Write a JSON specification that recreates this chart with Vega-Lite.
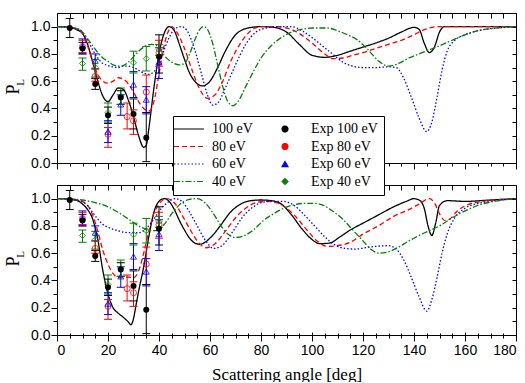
{
 "$schema": "https://vega.github.io/schema/vega-lite/v6.json",
 "padding": {"left": 4, "top": 12, "right": 9, "bottom": 0},
 "bounds": "flush",
 "spacing": 22,
 "config": {
  "font": "Liberation Sans",
  "view": {"stroke": null},
  "axis": {"grid": false, "domainColor": "black", "tickColor": "black", "labelColor": "black", "labelFont": "Liberation Sans", "labelFontSize": 14, "titleFont": "Liberation Serif", "titleFontWeight": "normal", "titleColor": "black", "domainWidth": 1, "tickWidth": 1},
  "legend": {"padding": 6, "rowPadding": 3.5, "columnPadding": 25, "labelFont": "Liberation Serif", "labelFontSize": 14, "labelColor": "black", "fillColor": "white", "strokeColor": "black", "symbolStrokeWidth": 1.1, "symbolFillColor": "transparent", "labelOffset": 19, "symbolSize": 36}
 },
 "datasets": {
  "ccc": [
   {"a":0,"p":1,"k":"100 eV"},{"a":5,"p":0.995,"k":"100 eV"},{"a":8,"p":0.975,"k":"100 eV"},{"a":10,"p":0.95,"k":"100 eV"},{"a":12,"p":0.87,"k":"100 eV"},{"a":14,"p":0.74,"k":"100 eV"},{"a":16,"p":0.6,"k":"100 eV"},{"a":18,"p":0.49,"k":"100 eV"},{"a":20,"p":0.45,"k":"100 eV"},{"a":22,"p":0.5,"k":"100 eV"},{"a":24,"p":0.55,"k":"100 eV"},{"a":26,"p":0.54,"k":"100 eV"},{"a":28,"p":0.46,"k":"100 eV"},{"a":30,"p":0.34,"k":"100 eV"},{"a":32,"p":0.2,"k":"100 eV"},{"a":34,"p":0.115,"k":"100 eV"},{"a":35,"p":0.13,"k":"100 eV"},{"a":36,"p":0.25,"k":"100 eV"},{"a":38,"p":0.55,"k":"100 eV"},{"a":40,"p":0.8,"k":"100 eV"},{"a":42,"p":0.95,"k":"100 eV"},{"a":44,"p":1.0,"k":"100 eV"},{"a":46,"p":0.97,"k":"100 eV"},{"a":48,"p":0.87,"k":"100 eV"},{"a":50,"p":0.76,"k":"100 eV"},{"a":52,"p":0.66,"k":"100 eV"},{"a":54,"p":0.6,"k":"100 eV"},{"a":57,"p":0.565,"k":"100 eV"},{"a":60,"p":0.6,"k":"100 eV"},{"a":63,"p":0.7,"k":"100 eV"},{"a":66,"p":0.82,"k":"100 eV"},{"a":70,"p":0.94,"k":"100 eV"},{"a":75,"p":0.99,"k":"100 eV"},{"a":80,"p":1.0,"k":"100 eV"},{"a":85,"p":0.995,"k":"100 eV"},{"a":90,"p":0.96,"k":"100 eV"},{"a":95,"p":0.87,"k":"100 eV"},{"a":100,"p":0.79,"k":"100 eV"},{"a":105,"p":0.775,"k":"100 eV"},{"a":110,"p":0.79,"k":"100 eV"},{"a":115,"p":0.82,"k":"100 eV"},{"a":120,"p":0.85,"k":"100 eV"},{"a":125,"p":0.88,"k":"100 eV"},{"a":130,"p":0.915,"k":"100 eV"},{"a":135,"p":0.96,"k":"100 eV"},{"a":140,"p":0.995,"k":"100 eV"},{"a":142,"p":0.98,"k":"100 eV"},{"a":144,"p":0.88,"k":"100 eV"},{"a":146,"p":0.81,"k":"100 eV"},{"a":148,"p":0.85,"k":"100 eV"},{"a":150,"p":0.96,"k":"100 eV"},{"a":152,"p":1.0,"k":"100 eV"},{"a":160,"p":1.0,"k":"100 eV"},{"a":180,"p":1.0,"k":"100 eV"},
   {"a":0,"p":1,"k":"80 eV"},{"a":5,"p":0.995,"k":"80 eV"},{"a":8,"p":0.98,"k":"80 eV"},{"a":10,"p":0.95,"k":"80 eV"},{"a":12,"p":0.86,"k":"80 eV"},{"a":14,"p":0.74,"k":"80 eV"},{"a":16,"p":0.65,"k":"80 eV"},{"a":18,"p":0.6,"k":"80 eV"},{"a":20,"p":0.585,"k":"80 eV"},{"a":22,"p":0.6,"k":"80 eV"},{"a":24,"p":0.625,"k":"80 eV"},{"a":26,"p":0.615,"k":"80 eV"},{"a":28,"p":0.58,"k":"80 eV"},{"a":30,"p":0.52,"k":"80 eV"},{"a":32,"p":0.45,"k":"80 eV"},{"a":34,"p":0.4,"k":"80 eV"},{"a":36,"p":0.38,"k":"80 eV"},{"a":38,"p":0.45,"k":"80 eV"},{"a":40,"p":0.65,"k":"80 eV"},{"a":42,"p":0.86,"k":"80 eV"},{"a":44,"p":0.98,"k":"80 eV"},{"a":45,"p":1.0,"k":"80 eV"},{"a":47,"p":0.96,"k":"80 eV"},{"a":50,"p":0.84,"k":"80 eV"},{"a":53,"p":0.68,"k":"80 eV"},{"a":56,"p":0.54,"k":"80 eV"},{"a":59,"p":0.475,"k":"80 eV"},{"a":62,"p":0.5,"k":"80 eV"},{"a":65,"p":0.6,"k":"80 eV"},{"a":68,"p":0.74,"k":"80 eV"},{"a":72,"p":0.88,"k":"80 eV"},{"a":76,"p":0.97,"k":"80 eV"},{"a":80,"p":1.0,"k":"80 eV"},{"a":85,"p":1.0,"k":"80 eV"},{"a":90,"p":0.99,"k":"80 eV"},{"a":95,"p":0.95,"k":"80 eV"},{"a":100,"p":0.88,"k":"80 eV"},{"a":105,"p":0.8,"k":"80 eV"},{"a":108,"p":0.765,"k":"80 eV"},{"a":112,"p":0.77,"k":"80 eV"},{"a":116,"p":0.79,"k":"80 eV"},{"a":120,"p":0.81,"k":"80 eV"},{"a":125,"p":0.84,"k":"80 eV"},{"a":130,"p":0.87,"k":"80 eV"},{"a":135,"p":0.9,"k":"80 eV"},{"a":140,"p":0.94,"k":"80 eV"},{"a":143,"p":0.97,"k":"80 eV"},{"a":146,"p":0.99,"k":"80 eV"},{"a":150,"p":1.0,"k":"80 eV"},{"a":180,"p":1.0,"k":"80 eV"},
   {"a":0,"p":1,"k":"60 eV"},{"a":5,"p":0.995,"k":"60 eV"},{"a":8,"p":0.985,"k":"60 eV"},{"a":10,"p":0.96,"k":"60 eV"},{"a":12,"p":0.9,"k":"60 eV"},{"a":14,"p":0.83,"k":"60 eV"},{"a":16,"p":0.77,"k":"60 eV"},{"a":18,"p":0.73,"k":"60 eV"},{"a":20,"p":0.715,"k":"60 eV"},{"a":22,"p":0.705,"k":"60 eV"},{"a":24,"p":0.7,"k":"60 eV"},{"a":26,"p":0.71,"k":"60 eV"},{"a":28,"p":0.71,"k":"60 eV"},{"a":30,"p":0.7,"k":"60 eV"},{"a":32,"p":0.68,"k":"60 eV"},{"a":34,"p":0.66,"k":"60 eV"},{"a":36,"p":0.65,"k":"60 eV"},{"a":38,"p":0.67,"k":"60 eV"},{"a":40,"p":0.73,"k":"60 eV"},{"a":42,"p":0.83,"k":"60 eV"},{"a":44,"p":0.92,"k":"60 eV"},{"a":46,"p":0.98,"k":"60 eV"},{"a":48.8,"p":1.0,"k":"60 eV"},{"a":51,"p":0.97,"k":"60 eV"},{"a":54,"p":0.83,"k":"60 eV"},{"a":57,"p":0.63,"k":"60 eV"},{"a":59,"p":0.5,"k":"60 eV"},{"a":61,"p":0.425,"k":"60 eV"},{"a":63,"p":0.44,"k":"60 eV"},{"a":66,"p":0.55,"k":"60 eV"},{"a":70,"p":0.72,"k":"60 eV"},{"a":74,"p":0.87,"k":"60 eV"},{"a":78,"p":0.96,"k":"60 eV"},{"a":82,"p":0.99,"k":"60 eV"},{"a":86,"p":1.0,"k":"60 eV"},{"a":92,"p":1.0,"k":"60 eV"},{"a":96,"p":0.97,"k":"60 eV"},{"a":100,"p":0.92,"k":"60 eV"},{"a":104,"p":0.86,"k":"60 eV"},{"a":108,"p":0.8,"k":"60 eV"},{"a":112,"p":0.74,"k":"60 eV"},{"a":116,"p":0.71,"k":"60 eV"},{"a":120,"p":0.7,"k":"60 eV"},{"a":125,"p":0.7,"k":"60 eV"},{"a":130,"p":0.705,"k":"60 eV"},{"a":133,"p":0.7,"k":"60 eV"},{"a":136,"p":0.62,"k":"60 eV"},{"a":139,"p":0.48,"k":"60 eV"},{"a":142,"p":0.33,"k":"60 eV"},{"a":145,"p":0.23,"k":"60 eV"},{"a":147,"p":0.3,"k":"60 eV"},{"a":149,"p":0.48,"k":"60 eV"},{"a":151,"p":0.68,"k":"60 eV"},{"a":153,"p":0.82,"k":"60 eV"},{"a":156,"p":0.9,"k":"60 eV"},{"a":160,"p":0.94,"k":"60 eV"},{"a":165,"p":0.97,"k":"60 eV"},{"a":170,"p":0.985,"k":"60 eV"},{"a":180,"p":1.0,"k":"60 eV"},
   {"a":0,"p":1,"k":"40 eV"},{"a":5,"p":0.995,"k":"40 eV"},{"a":8,"p":0.985,"k":"40 eV"},{"a":10,"p":0.96,"k":"40 eV"},{"a":12,"p":0.91,"k":"40 eV"},{"a":14,"p":0.86,"k":"40 eV"},{"a":16,"p":0.81,"k":"40 eV"},{"a":18,"p":0.77,"k":"40 eV"},{"a":20,"p":0.745,"k":"40 eV"},{"a":22,"p":0.72,"k":"40 eV"},{"a":25,"p":0.71,"k":"40 eV"},{"a":28,"p":0.74,"k":"40 eV"},{"a":31,"p":0.8,"k":"40 eV"},{"a":34,"p":0.85,"k":"40 eV"},{"a":37,"p":0.87,"k":"40 eV"},{"a":40,"p":0.85,"k":"40 eV"},{"a":42,"p":0.79,"k":"40 eV"},{"a":45,"p":0.74,"k":"40 eV"},{"a":48,"p":0.72,"k":"40 eV"},{"a":50,"p":0.73,"k":"40 eV"},{"a":52,"p":0.8,"k":"40 eV"},{"a":54,"p":0.9,"k":"40 eV"},{"a":56,"p":0.98,"k":"40 eV"},{"a":57.5,"p":1.0,"k":"40 eV"},{"a":59,"p":0.98,"k":"40 eV"},{"a":61,"p":0.88,"k":"40 eV"},{"a":63,"p":0.72,"k":"40 eV"},{"a":65,"p":0.56,"k":"40 eV"},{"a":67,"p":0.45,"k":"40 eV"},{"a":69,"p":0.42,"k":"40 eV"},{"a":71,"p":0.45,"k":"40 eV"},{"a":74,"p":0.56,"k":"40 eV"},{"a":77,"p":0.67,"k":"40 eV"},{"a":80,"p":0.77,"k":"40 eV"},{"a":84,"p":0.86,"k":"40 eV"},{"a":88,"p":0.92,"k":"40 eV"},{"a":92,"p":0.96,"k":"40 eV"},{"a":96,"p":0.98,"k":"40 eV"},{"a":100,"p":0.99,"k":"40 eV"},{"a":106,"p":0.99,"k":"40 eV"},{"a":110,"p":0.97,"k":"40 eV"},{"a":114,"p":0.94,"k":"40 eV"},{"a":118,"p":0.9,"k":"40 eV"},{"a":122,"p":0.83,"k":"40 eV"},{"a":126,"p":0.75,"k":"40 eV"},{"a":130,"p":0.71,"k":"40 eV"},{"a":134,"p":0.73,"k":"40 eV"},{"a":138,"p":0.77,"k":"40 eV"},{"a":142,"p":0.8,"k":"40 eV"},{"a":146,"p":0.83,"k":"40 eV"},{"a":150,"p":0.86,"k":"40 eV"},{"a":155,"p":0.9,"k":"40 eV"},{"a":160,"p":0.94,"k":"40 eV"},{"a":165,"p":0.97,"k":"40 eV"},{"a":170,"p":0.985,"k":"40 eV"},{"a":180,"p":1.0,"k":"40 eV"}
  ],
  "rdwa": [
   {"a":0,"p":1,"k":"100 eV"},{"a":5,"p":0.995,"k":"100 eV"},{"a":8,"p":0.985,"k":"100 eV"},{"a":10,"p":0.96,"k":"100 eV"},{"a":12,"p":0.92,"k":"100 eV"},{"a":14,"p":0.85,"k":"100 eV"},{"a":16,"p":0.7,"k":"100 eV"},{"a":18,"p":0.47,"k":"100 eV"},{"a":20,"p":0.3,"k":"100 eV"},{"a":22,"p":0.2,"k":"100 eV"},{"a":24,"p":0.16,"k":"100 eV"},{"a":26,"p":0.13,"k":"100 eV"},{"a":28,"p":0.095,"k":"100 eV"},{"a":29,"p":0.075,"k":"100 eV"},{"a":30,"p":0.12,"k":"100 eV"},{"a":31,"p":0.22,"k":"100 eV"},{"a":32,"p":0.32,"k":"100 eV"},{"a":34,"p":0.5,"k":"100 eV"},{"a":36,"p":0.72,"k":"100 eV"},{"a":38,"p":0.9,"k":"100 eV"},{"a":40,"p":0.98,"k":"100 eV"},{"a":42,"p":1.0,"k":"100 eV"},{"a":44,"p":0.98,"k":"100 eV"},{"a":46,"p":0.92,"k":"100 eV"},{"a":48,"p":0.84,"k":"100 eV"},{"a":50,"p":0.77,"k":"100 eV"},{"a":52,"p":0.71,"k":"100 eV"},{"a":54,"p":0.675,"k":"100 eV"},{"a":56,"p":0.665,"k":"100 eV"},{"a":58,"p":0.68,"k":"100 eV"},{"a":61,"p":0.73,"k":"100 eV"},{"a":64,"p":0.8,"k":"100 eV"},{"a":68,"p":0.9,"k":"100 eV"},{"a":72,"p":0.96,"k":"100 eV"},{"a":76,"p":0.985,"k":"100 eV"},{"a":80,"p":0.99,"k":"100 eV"},{"a":84,"p":0.985,"k":"100 eV"},{"a":88,"p":0.96,"k":"100 eV"},{"a":92,"p":0.88,"k":"100 eV"},{"a":96,"p":0.78,"k":"100 eV"},{"a":100,"p":0.7,"k":"100 eV"},{"a":103,"p":0.67,"k":"100 eV"},{"a":107,"p":0.675,"k":"100 eV"},{"a":111,"p":0.72,"k":"100 eV"},{"a":115,"p":0.77,"k":"100 eV"},{"a":120,"p":0.82,"k":"100 eV"},{"a":126,"p":0.88,"k":"100 eV"},{"a":132,"p":0.94,"k":"100 eV"},{"a":137,"p":0.98,"k":"100 eV"},{"a":140,"p":1.0,"k":"100 eV"},{"a":142,"p":0.99,"k":"100 eV"},{"a":144,"p":0.93,"k":"100 eV"},{"a":145.5,"p":0.8,"k":"100 eV"},{"a":147,"p":0.73,"k":"100 eV"},{"a":148.5,"p":0.82,"k":"100 eV"},{"a":150,"p":0.95,"k":"100 eV"},{"a":153,"p":0.985,"k":"100 eV"},{"a":160,"p":0.98,"k":"100 eV"},{"a":170,"p":0.99,"k":"100 eV"},{"a":180,"p":1.0,"k":"100 eV"},
   {"a":0,"p":1,"k":"80 eV"},{"a":5,"p":0.995,"k":"80 eV"},{"a":8,"p":0.99,"k":"80 eV"},{"a":10,"p":0.98,"k":"80 eV"},{"a":12,"p":0.95,"k":"80 eV"},{"a":14,"p":0.88,"k":"80 eV"},{"a":16,"p":0.76,"k":"80 eV"},{"a":18,"p":0.62,"k":"80 eV"},{"a":20,"p":0.52,"k":"80 eV"},{"a":22,"p":0.45,"k":"80 eV"},{"a":24,"p":0.42,"k":"80 eV"},{"a":26,"p":0.425,"k":"80 eV"},{"a":28,"p":0.425,"k":"80 eV"},{"a":30,"p":0.42,"k":"80 eV"},{"a":32,"p":0.47,"k":"80 eV"},{"a":34,"p":0.6,"k":"80 eV"},{"a":36,"p":0.76,"k":"80 eV"},{"a":38,"p":0.89,"k":"80 eV"},{"a":40,"p":0.96,"k":"80 eV"},{"a":43,"p":1.0,"k":"80 eV"},{"a":46,"p":0.97,"k":"80 eV"},{"a":49,"p":0.88,"k":"80 eV"},{"a":52,"p":0.78,"k":"80 eV"},{"a":55,"p":0.69,"k":"80 eV"},{"a":58.5,"p":0.64,"k":"80 eV"},{"a":62,"p":0.67,"k":"80 eV"},{"a":66,"p":0.76,"k":"80 eV"},{"a":70,"p":0.86,"k":"80 eV"},{"a":74,"p":0.93,"k":"80 eV"},{"a":78,"p":0.97,"k":"80 eV"},{"a":82,"p":0.98,"k":"80 eV"},{"a":86,"p":0.97,"k":"80 eV"},{"a":90,"p":0.93,"k":"80 eV"},{"a":94,"p":0.86,"k":"80 eV"},{"a":98,"p":0.77,"k":"80 eV"},{"a":102,"p":0.69,"k":"80 eV"},{"a":106,"p":0.65,"k":"80 eV"},{"a":110,"p":0.655,"k":"80 eV"},{"a":115,"p":0.68,"k":"80 eV"},{"a":120,"p":0.74,"k":"80 eV"},{"a":126,"p":0.8,"k":"80 eV"},{"a":132,"p":0.87,"k":"80 eV"},{"a":138,"p":0.92,"k":"80 eV"},{"a":142,"p":0.96,"k":"80 eV"},{"a":146,"p":1.0,"k":"80 eV"},{"a":148,"p":0.97,"k":"80 eV"},{"a":150,"p":0.89,"k":"80 eV"},{"a":152,"p":0.84,"k":"80 eV"},{"a":154,"p":0.85,"k":"80 eV"},{"a":157,"p":0.91,"k":"80 eV"},{"a":161,"p":0.955,"k":"80 eV"},{"a":167,"p":0.98,"k":"80 eV"},{"a":180,"p":1.0,"k":"80 eV"},
   {"a":0,"p":1,"k":"60 eV"},{"a":5,"p":0.997,"k":"60 eV"},{"a":8,"p":0.99,"k":"60 eV"},{"a":10,"p":0.975,"k":"60 eV"},{"a":12,"p":0.95,"k":"60 eV"},{"a":14,"p":0.9,"k":"60 eV"},{"a":16,"p":0.85,"k":"60 eV"},{"a":18,"p":0.81,"k":"60 eV"},{"a":20,"p":0.79,"k":"60 eV"},{"a":23,"p":0.77,"k":"60 eV"},{"a":26,"p":0.755,"k":"60 eV"},{"a":29,"p":0.75,"k":"60 eV"},{"a":32,"p":0.75,"k":"60 eV"},{"a":35,"p":0.78,"k":"60 eV"},{"a":38,"p":0.85,"k":"60 eV"},{"a":41,"p":0.93,"k":"60 eV"},{"a":44,"p":0.98,"k":"60 eV"},{"a":46.5,"p":1.0,"k":"60 eV"},{"a":49,"p":0.98,"k":"60 eV"},{"a":52,"p":0.9,"k":"60 eV"},{"a":55,"p":0.8,"k":"60 eV"},{"a":58,"p":0.7,"k":"60 eV"},{"a":61.5,"p":0.635,"k":"60 eV"},{"a":65,"p":0.66,"k":"60 eV"},{"a":69,"p":0.76,"k":"60 eV"},{"a":73,"p":0.87,"k":"60 eV"},{"a":77,"p":0.94,"k":"60 eV"},{"a":81,"p":0.975,"k":"60 eV"},{"a":85,"p":0.98,"k":"60 eV"},{"a":89,"p":0.98,"k":"60 eV"},{"a":93,"p":0.95,"k":"60 eV"},{"a":97,"p":0.88,"k":"60 eV"},{"a":101,"p":0.8,"k":"60 eV"},{"a":105,"p":0.72,"k":"60 eV"},{"a":109,"p":0.66,"k":"60 eV"},{"a":113,"p":0.635,"k":"60 eV"},{"a":117,"p":0.63,"k":"60 eV"},{"a":121,"p":0.64,"k":"60 eV"},{"a":125,"p":0.65,"k":"60 eV"},{"a":130,"p":0.655,"k":"60 eV"},{"a":133,"p":0.63,"k":"60 eV"},{"a":136,"p":0.55,"k":"60 eV"},{"a":139,"p":0.42,"k":"60 eV"},{"a":142,"p":0.28,"k":"60 eV"},{"a":145,"p":0.175,"k":"60 eV"},{"a":147,"p":0.26,"k":"60 eV"},{"a":149,"p":0.42,"k":"60 eV"},{"a":151,"p":0.6,"k":"60 eV"},{"a":153,"p":0.74,"k":"60 eV"},{"a":156,"p":0.86,"k":"60 eV"},{"a":160,"p":0.93,"k":"60 eV"},{"a":165,"p":0.965,"k":"60 eV"},{"a":170,"p":0.98,"k":"60 eV"},{"a":180,"p":1.0,"k":"60 eV"},
   {"a":0,"p":1,"k":"40 eV"},{"a":5,"p":0.998,"k":"40 eV"},{"a":10,"p":0.99,"k":"40 eV"},{"a":15,"p":0.97,"k":"40 eV"},{"a":20,"p":0.94,"k":"40 eV"},{"a":24,"p":0.9,"k":"40 eV"},{"a":28,"p":0.85,"k":"40 eV"},{"a":32,"p":0.8,"k":"40 eV"},{"a":36,"p":0.77,"k":"40 eV"},{"a":39,"p":0.765,"k":"40 eV"},{"a":42,"p":0.81,"k":"40 eV"},{"a":45,"p":0.89,"k":"40 eV"},{"a":49,"p":0.97,"k":"40 eV"},{"a":52,"p":0.995,"k":"40 eV"},{"a":55,"p":1.0,"k":"40 eV"},{"a":58,"p":0.97,"k":"40 eV"},{"a":61,"p":0.9,"k":"40 eV"},{"a":64,"p":0.81,"k":"40 eV"},{"a":67,"p":0.74,"k":"40 eV"},{"a":70,"p":0.715,"k":"40 eV"},{"a":73,"p":0.725,"k":"40 eV"},{"a":77,"p":0.77,"k":"40 eV"},{"a":81,"p":0.84,"k":"40 eV"},{"a":85,"p":0.89,"k":"40 eV"},{"a":89,"p":0.93,"k":"40 eV"},{"a":93,"p":0.955,"k":"40 eV"},{"a":97,"p":0.965,"k":"40 eV"},{"a":101,"p":0.965,"k":"40 eV"},{"a":104,"p":0.955,"k":"40 eV"},{"a":108,"p":0.91,"k":"40 eV"},{"a":112,"p":0.85,"k":"40 eV"},{"a":116,"p":0.77,"k":"40 eV"},{"a":120,"p":0.69,"k":"40 eV"},{"a":123,"p":0.63,"k":"40 eV"},{"a":126.5,"p":0.6,"k":"40 eV"},{"a":130,"p":0.61,"k":"40 eV"},{"a":134,"p":0.645,"k":"40 eV"},{"a":138,"p":0.69,"k":"40 eV"},{"a":142,"p":0.73,"k":"40 eV"},{"a":146,"p":0.765,"k":"40 eV"},{"a":150,"p":0.8,"k":"40 eV"},{"a":155,"p":0.86,"k":"40 eV"},{"a":160,"p":0.91,"k":"40 eV"},{"a":165,"p":0.95,"k":"40 eV"},{"a":170,"p":0.975,"k":"40 eV"},{"a":175,"p":0.99,"k":"40 eV"},{"a":180,"p":1.0,"k":"40 eV"}
  ],
  "exp": [
   {"a":5,"p":0.99,"lo":0.92,"hi":1.06,"k":"Exp 100 eV"},{"a":10,"p":0.84,"lo":0.8,"hi":0.885,"k":"Exp 100 eV"},{"a":15,"p":0.58,"lo":0.54,"hi":0.62,"k":"Exp 100 eV"},{"a":20,"p":0.35,"lo":0.29,"hi":0.41,"k":"Exp 100 eV"},{"a":25,"p":0.48,"lo":0.43,"hi":0.53,"k":"Exp 100 eV"},{"a":30,"p":0.36,"lo":0.25,"hi":0.47,"k":"Exp 100 eV"},{"a":35,"p":0.185,"lo":0.01,"hi":0.37,"k":"Exp 100 eV"},{"a":40,"p":0.78,"lo":0.66,"hi":0.94,"k":"Exp 100 eV"},
   {"a":10,"p":0.855,"lo":0.81,"hi":0.9,"k":"Exp 80 eV"},{"a":15,"p":0.635,"lo":0.6,"hi":0.69,"k":"Exp 80 eV"},{"a":20,"p":0.21,"lo":0.115,"hi":0.26,"k":"Exp 80 eV"},{"a":27.5,"p":0.34,"lo":0.25,"hi":0.44,"k":"Exp 80 eV"},{"a":30,"p":0.31,"lo":0.21,"hi":0.39,"k":"Exp 80 eV"},{"a":35,"p":0.52,"lo":0.37,"hi":0.645,"k":"Exp 80 eV"},{"a":40,"p":0.81,"lo":0.71,"hi":0.9,"k":"Exp 80 eV"},
   {"a":10,"p":0.86,"lo":0.8,"hi":0.91,"k":"Exp 60 eV"},{"a":15,"p":0.75,"lo":0.69,"hi":0.8,"k":"Exp 60 eV"},{"a":20,"p":0.23,"lo":0.15,"hi":0.31,"k":"Exp 60 eV"},{"a":25,"p":0.43,"lo":0.35,"hi":0.5,"k":"Exp 60 eV"},{"a":30,"p":0.575,"lo":0.48,"hi":0.67,"k":"Exp 60 eV"},{"a":35,"p":0.465,"lo":0.36,"hi":0.56,"k":"Exp 60 eV"},{"a":40,"p":0.74,"lo":0.62,"hi":0.845,"k":"Exp 60 eV"},
   {"a":10,"p":0.73,"lo":0.68,"hi":0.77,"k":"Exp 40 eV"},{"a":15,"p":0.7,"lo":0.63,"hi":0.76,"k":"Exp 40 eV"},{"a":20,"p":0.37,"lo":0.3,"hi":0.44,"k":"Exp 40 eV"},{"a":25,"p":0.49,"lo":0.43,"hi":0.55,"k":"Exp 40 eV"},{"a":30,"p":0.735,"lo":0.66,"hi":0.82,"k":"Exp 40 eV"},{"a":35,"p":0.765,"lo":0.675,"hi":0.855,"k":"Exp 40 eV"},{"a":40,"p":0.83,"lo":0.79,"hi":0.87,"k":"Exp 40 eV"}
  ]
 },
 "vconcat": [
  {
   "width": 459, "height": 150,
   "resolve": {"axis": {"x": "independent", "y": "independent"}},
   "layer": [
    {
     "data": {"name": "ccc"},
     "mark": {"type": "line", "strokeWidth": 1.3, "interpolate": "monotone"},
     "encoding": {
      "x": {"field": "a", "type": "quantitative", "scale": {"domain": [0, 180], "nice": false, "zero": false}, "axis": {"orient": "bottom", "values": [0,20,40,60,80,100,120,140,160,180], "labels": false, "title": null, "tickSize": 6}},
      "y": {"field": "p", "type": "quantitative", "scale": {"domain": [0, 1.1], "nice": false}, "axis": {"orient": "left", "values": [0,0.2,0.4,0.6,0.8,1.0], "format": ".1f", "tickSize": 6, "labelPadding": 1, "title": "P", "titleFontSize": 18, "titleAngle": 270, "titleX": -44, "titleY": 76, "titleAlign": "center", "titleBaseline": "middle"}},
      "stroke": {"field": "k", "type": "nominal", "scale": {"domain": ["100 eV","Exp 100 eV","80 eV","Exp 80 eV","60 eV","Exp 60 eV","40 eV","Exp 40 eV"], "range": ["#000000","#000000","#ff0000","#ff0000","#0000ff","#0000ff","#008000","#008000"]}, "legend": {"orient": "none", "legendX": 116, "legendY": 103, "columns": 2, "direction": "horizontal", "title": null}},
      "strokeDash": {"field": "k", "type": "nominal", "scale": {"domain": ["100 eV","Exp 100 eV","80 eV","Exp 80 eV","60 eV","Exp 60 eV","40 eV","Exp 40 eV"], "range": [[1,0],[1,0],[5,3],[1,0],[1.5,2],[1,0],[6,2,1.5,2],[1,0]]}, "legend": {"orient": "none", "legendX": 116, "legendY": 103, "columns": 2, "direction": "horizontal", "title": null}}
     }
    },
    {
     "data": {"name": "exp"},
     "mark": {"type": "rule", "strokeWidth": 1},
     "encoding": {
      "x": {"field": "a", "type": "quantitative", "axis": {"orient": "top", "values": [0,20,40,60,80,100,120,140,160,180], "labels": false, "title": null, "tickSize": -5}},
      "y": {"field": "lo", "type": "quantitative", "axis": {"orient": "right", "values": [0,0.2,0.4,0.6,0.8,1.0], "labels": false, "title": null, "tickSize": -4}},
      "y2": {"field": "hi"},
      "color": {"field": "k", "type": "nominal", "scale": {"domain": ["100 eV","Exp 100 eV","80 eV","Exp 80 eV","60 eV","Exp 60 eV","40 eV","Exp 40 eV"], "range": ["#000000","#000000","#ff0000","#ff0000","#0000ff","#0000ff","#008000","#008000"]}, "legend": null}
     }
    },
    {
     "data": {"name": "exp"},
     "mark": {"type": "tick", "orient": "horizontal", "size": 8, "thickness": 1, "opacity": 1},
     "encoding": {
      "x": {"field": "a", "type": "quantitative", "axis": {"orient": "bottom", "values": [5,10,15,25,30,35,45,50,55,65,70,75,85,90,95,105,110,115,125,130,135,145,150,155,165,170,175], "labels": false, "title": null, "tickSize": 3, "domain": false}},
      "y": {"field": "lo", "type": "quantitative", "axis": {"orient": "left", "values": [0.1,0.3,0.5,0.7,0.9], "labels": false, "tickSize": 4, "domain": false, "title": "L", "titleFontSize": 11, "titleAngle": 270, "titleX": -37, "titleY": 69, "titleAlign": "center", "titleBaseline": "middle"}},
      "color": {"field": "k", "type": "nominal", "legend": null}
     }
    },
    {
     "data": {"name": "exp"},
     "mark": {"type": "tick", "orient": "horizontal", "size": 8, "thickness": 1, "opacity": 1},
     "encoding": {
      "x": {"field": "a", "type": "quantitative", "axis": {"orient": "top", "values": [5,10,15,25,30,35,45,50,55,65,70,75,85,90,95,105,110,115,125,130,135,145,150,155,165,170,175], "labels": false, "title": null, "tickSize": -5, "domain": false}},
      "y": {"field": "hi", "type": "quantitative", "axis": {"orient": "right", "values": [0.1,0.3,0.5,0.7,0.9], "labels": false, "title": null, "tickSize": -4, "domain": false}},
      "color": {"field": "k", "type": "nominal", "legend": null}
     }
    },
    {
     "data": {"name": "exp"},
     "transform": [{"filter": "datum.k !== 'Exp 100 eV'"}],
     "mark": {"type": "point", "filled": false, "size": 36, "strokeWidth": 0.8, "opacity": 1},
     "encoding": {
      "x": {"field": "a", "type": "quantitative", "axis": null},
      "y": {"field": "p", "type": "quantitative", "axis": null},
      "stroke": {"field": "k", "type": "nominal", "legend": {"orient": "none", "legendX": 116, "legendY": 103, "columns": 2, "direction": "horizontal", "title": null}},
      "shape": {"field": "k", "type": "nominal", "scale": {"domain": ["100 eV","Exp 100 eV","80 eV","Exp 80 eV","60 eV","Exp 60 eV","40 eV","Exp 40 eV"], "range": ["M-4,0H6","circle","M-4,0H6","circle","M-4,0H6","triangle-up","M-4,0H6","diamond"]}, "legend": {"orient": "none", "legendX": 116, "legendY": 103, "columns": 2, "direction": "horizontal", "title": null}}
     }
    },
    {
     "data": {"name": "exp"},
     "transform": [{"filter": "datum.k === 'Exp 100 eV'"}],
     "mark": {"type": "point", "filled": true, "shape": "circle", "size": 36, "color": "black", "opacity": 1},
     "encoding": {
      "x": {"field": "a", "type": "quantitative", "axis": null},
      "y": {"field": "p", "type": "quantitative", "axis": null}
     }
    },
    {
     "mark": {"type": "rect", "fill": "black"},
     "encoding": {"x": {"datum": 160.6, "type": "quantitative", "axis": null}, "x2": {"datum": 176.3}, "y": {"datum": 0.829, "type": "quantitative", "axis": null}, "y2": {"datum": 0.658}}
    },
    {
     "mark": {"type": "rect", "fill": "white", "stroke": "black", "strokeWidth": 1},
     "encoding": {"x": {"datum": 158.6, "type": "quantitative", "axis": null}, "x2": {"datum": 174.3}, "y": {"datum": 0.858, "type": "quantitative", "axis": null}, "y2": {"datum": 0.687}}
    },
    {
     "mark": {"type": "text", "text": "CCC", "font": "Liberation Serif", "fontSize": 17, "color": "black", "baseline": "middle", "align": "center"},
     "encoding": {"x": {"datum": 166.4, "type": "quantitative", "axis": null}, "y": {"datum": 0.77, "type": "quantitative", "axis": null}}
    }
   ]
  },
  {
   "width": 459, "height": 150,
   "resolve": {"axis": {"x": "independent", "y": "independent"}},
   "layer": [
    {
     "data": {"name": "rdwa"},
     "mark": {"type": "line", "strokeWidth": 1.3, "interpolate": "monotone"},
     "encoding": {
      "x": {"field": "a", "type": "quantitative", "scale": {"domain": [0, 180], "nice": false, "zero": false}, "axis": {"orient": "bottom", "values": [0,20,40,60,80,100,120,140,160,180], "format": "d", "tickSize": 6, "labelPadding": 2, "title": "Scattering angle [deg]", "titleFontSize": 17, "titlePadding": 9}},
      "y": {"field": "p", "type": "quantitative", "scale": {"domain": [0, 1.1], "nice": false}, "axis": {"orient": "left", "values": [0,0.2,0.4,0.6,0.8,1.0], "format": ".1f", "tickSize": 6, "labelPadding": 1, "title": "P", "titleFontSize": 18, "titleAngle": 270, "titleX": -44, "titleY": 76, "titleAlign": "center", "titleBaseline": "middle"}},
      "stroke": {"field": "k", "type": "nominal", "scale": {"domain": ["100 eV","Exp 100 eV","80 eV","Exp 80 eV","60 eV","Exp 60 eV","40 eV","Exp 40 eV"], "range": ["#000000","#000000","#ff0000","#ff0000","#0000ff","#0000ff","#008000","#008000"]}, "legend": {"orient": "none", "legendX": 116, "legendY": 103, "columns": 2, "direction": "horizontal", "title": null}},
      "strokeDash": {"field": "k", "type": "nominal", "scale": {"domain": ["100 eV","Exp 100 eV","80 eV","Exp 80 eV","60 eV","Exp 60 eV","40 eV","Exp 40 eV"], "range": [[1,0],[1,0],[5,3],[1,0],[1.5,2],[1,0],[6,2,1.5,2],[1,0]]}, "legend": {"orient": "none", "legendX": 116, "legendY": 103, "columns": 2, "direction": "horizontal", "title": null}}
     }
    },
    {
     "data": {"name": "exp"},
     "mark": {"type": "rule", "strokeWidth": 1},
     "encoding": {
      "x": {"field": "a", "type": "quantitative", "axis": {"orient": "top", "values": [0,20,40,60,80,100,120,140,160,180], "labels": false, "title": null, "tickSize": -5}},
      "y": {"field": "lo", "type": "quantitative", "axis": {"orient": "right", "values": [0,0.2,0.4,0.6,0.8,1.0], "labels": false, "title": null, "tickSize": -4}},
      "y2": {"field": "hi"},
      "color": {"field": "k", "type": "nominal", "scale": {"domain": ["100 eV","Exp 100 eV","80 eV","Exp 80 eV","60 eV","Exp 60 eV","40 eV","Exp 40 eV"], "range": ["#000000","#000000","#ff0000","#ff0000","#0000ff","#0000ff","#008000","#008000"]}, "legend": null}
     }
    },
    {
     "data": {"name": "exp"},
     "mark": {"type": "tick", "orient": "horizontal", "size": 8, "thickness": 1, "opacity": 1},
     "encoding": {
      "x": {"field": "a", "type": "quantitative", "axis": {"orient": "bottom", "values": [5,10,15,25,30,35,45,50,55,65,70,75,85,90,95,105,110,115,125,130,135,145,150,155,165,170,175], "labels": false, "title": null, "tickSize": 3, "domain": false}},
      "y": {"field": "lo", "type": "quantitative", "axis": {"orient": "left", "values": [0.1,0.3,0.5,0.7,0.9], "labels": false, "tickSize": 4, "domain": false, "title": "L", "titleFontSize": 11, "titleAngle": 270, "titleX": -37, "titleY": 69, "titleAlign": "center", "titleBaseline": "middle"}},
      "color": {"field": "k", "type": "nominal", "legend": null}
     }
    },
    {
     "data": {"name": "exp"},
     "mark": {"type": "tick", "orient": "horizontal", "size": 8, "thickness": 1, "opacity": 1},
     "encoding": {
      "x": {"field": "a", "type": "quantitative", "axis": {"orient": "top", "values": [5,10,15,25,30,35,45,50,55,65,70,75,85,90,95,105,110,115,125,130,135,145,150,155,165,170,175], "labels": false, "title": null, "tickSize": -5, "domain": false}},
      "y": {"field": "hi", "type": "quantitative", "axis": {"orient": "right", "values": [0.1,0.3,0.5,0.7,0.9], "labels": false, "title": null, "tickSize": -4, "domain": false}},
      "color": {"field": "k", "type": "nominal", "legend": null}
     }
    },
    {
     "data": {"name": "exp"},
     "transform": [{"filter": "datum.k !== 'Exp 100 eV'"}],
     "mark": {"type": "point", "filled": false, "size": 36, "strokeWidth": 0.8, "opacity": 1},
     "encoding": {
      "x": {"field": "a", "type": "quantitative", "axis": null},
      "y": {"field": "p", "type": "quantitative", "axis": null},
      "stroke": {"field": "k", "type": "nominal", "legend": {"orient": "none", "legendX": 116, "legendY": 103, "columns": 2, "direction": "horizontal", "title": null}},
      "shape": {"field": "k", "type": "nominal", "scale": {"domain": ["100 eV","Exp 100 eV","80 eV","Exp 80 eV","60 eV","Exp 60 eV","40 eV","Exp 40 eV"], "range": ["M-4,0H6","circle","M-4,0H6","circle","M-4,0H6","triangle-up","M-4,0H6","diamond"]}, "legend": {"orient": "none", "legendX": 116, "legendY": 103, "columns": 2, "direction": "horizontal", "title": null}}
     }
    },
    {
     "data": {"name": "exp"},
     "transform": [{"filter": "datum.k === 'Exp 100 eV'"}],
     "mark": {"type": "point", "filled": true, "shape": "circle", "size": 36, "color": "black", "opacity": 1},
     "encoding": {
      "x": {"field": "a", "type": "quantitative", "axis": null},
      "y": {"field": "p", "type": "quantitative", "axis": null}
     }
    },
    {
     "mark": {"type": "rect", "fill": "black"},
     "encoding": {"x": {"datum": 155.3, "type": "quantitative", "axis": {"orient": "bottom", "values": [0,20,40,60,80,100,120,140,160,180], "labels": false, "title": null, "tickSize": -3, "domain": false}}, "x2": {"datum": 179.3}, "y": {"datum": 0.738, "type": "quantitative", "axis": null}, "y2": {"datum": 0.567}}
    },
    {
     "mark": {"type": "rect", "fill": "white", "stroke": "black", "strokeWidth": 1},
     "encoding": {"x": {"datum": 153.3, "type": "quantitative", "axis": {"orient": "bottom", "values": [5,10,15,25,30,35,45,50,55,65,70,75,85,90,95,105,110,115,125,130,135,145,150,155,165,170,175], "labels": false, "title": null, "tickSize": -2, "domain": false}}, "x2": {"datum": 177.3}, "y": {"datum": 0.775, "type": "quantitative", "axis": null}, "y2": {"datum": 0.604}}
    },
    {
     "mark": {"type": "text", "text": "RDWA", "font": "Liberation Serif", "fontSize": 17, "color": "black", "baseline": "middle", "align": "center"},
     "encoding": {"x": {"datum": 165.3, "type": "quantitative", "axis": null}, "y": {"datum": 0.689, "type": "quantitative", "axis": null}}
    }
   ]
  }
 ]
}
